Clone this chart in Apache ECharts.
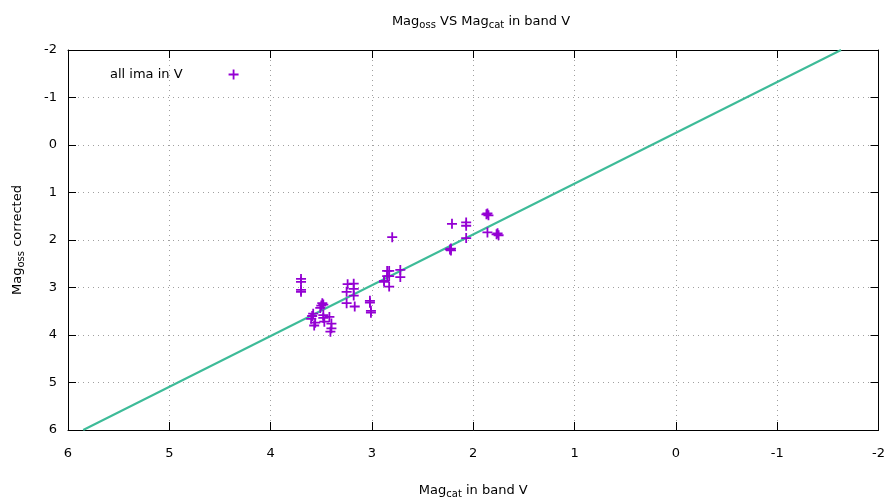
<!DOCTYPE html>
<html><head><meta charset="utf-8">
<script src="https://cdn.jsdelivr.net/npm/echarts@6/dist/echarts.min.js"></script>
<style>html,body{margin:0;padding:0;background:#fff}#c{width:888px;height:504px}</style>
</head><body><div id="c"></div>
<script>
// Observed points: catalogue magnitude (x) vs corrected observed magnitude (y)
var magCat = [3.70,3.70,3.70,3.70,3.49,3.48,3.50,3.51,3.58,3.59,3.60,3.56,3.57,3.48,3.48,3.47,3.42,3.40,3.40,3.41,
  3.24,3.25,3.25,3.18,3.18,3.18,3.17,3.02,3.02,3.01,3.01,2.80,2.85,2.85,2.88,2.83,2.83,2.88,2.83,2.72,2.72,
  2.22,2.23,2.22,2.21,2.07,2.07,2.07,1.86,1.87,1.85,1.86,1.76,1.77,1.75];
var magOss = [2.82,2.88,3.05,3.09,3.33,3.36,3.38,3.43,3.55,3.60,3.66,3.74,3.80,3.58,3.64,3.72,3.62,3.76,3.86,3.93,
  2.93,3.09,3.33,2.92,3.03,3.17,3.40,3.28,3.32,3.49,3.53,1.94,2.65,2.76,2.86,2.65,2.76,2.88,2.98,2.63,2.78,
  2.18,2.20,2.22,1.66,1.63,1.70,1.96,1.44,1.46,1.48,1.84,1.86,1.88,1.90];
// Fitted line end points (as read)
var lineX = [5.85, -1.63];
var lineY = [6.0, -2.0];
var xTicks = [6,5,4,3,2,1,0,-1,-2];
var yTicks = [-2,-1,0,1,2,3,4,5,6];

var FONT = 'DejaVu Sans';
var FS = 13;
var plus = 'path://M4.1,0h1.8v4.1h4.1v1.8h-4.1v4.1h-1.8v-4.1h-4.1v-1.8h4.1z';
var chart = echarts.init(document.getElementById('c'));
var pts = magCat.map(function(v,i){return [v, magOss[i]];});
var linePts = lineX.map(function(v,i){return [v, lineY[i]];});
var axisCommon = {
  type: 'value', min: -2, max: 6, interval: 1, inverse: true,
  axisLine: {show: true, onZero: false, lineStyle: {color: '#000', width: 1}},
  axisTick: {show: true, inside: true, length: 8, lineStyle: {color: '#000'}}
};
var richSub = {
  n: {fontFamily: FONT, fontSize: FS, fontWeight: 'normal', color: '#000', lineHeight: 17},
  s: {fontFamily: FONT, fontSize: 10, fontWeight: 'normal', color: '#000', padding: [7,0,0,0], lineHeight: 17}
};
var lbl = {color: '#000', fontFamily: FONT, fontSize: FS};
chart.setOption({
  animation: false,
  backgroundColor: '#fff',
  title: {
    text: '{n|Mag}{s|oss}{n| VS Mag}{s|cat}{n| in band V}',
    left: 476, top: 8, textAlign: 'center',
    textStyle: {fontWeight: 'normal', rich: richSub}
  },
  legend: {
    left: 105, top: 63, align: 'right',
    itemWidth: 10, itemHeight: 10,
    data: [{name: 'all ima in V', icon: plus}],
    formatter: function(n){return '{t|' + n + '}';},
    textStyle: {rich: {t: {fontFamily: FONT, fontSize: FS, color: '#000', padding: [0,41,0,0]}}}
  },
  grid: {left: 68, right: 8, top: 50, bottom: 72, containLabel: false},
  xAxis: [
    Object.assign({}, axisCommon, {
      position: 'bottom',
      name: '{n|Mag}{s|cat}{n| in band V}', nameLocation: 'middle', nameGap: 52,
      nameTextStyle: {rich: richSub},
      axisLabel: Object.assign({margin: 17, formatter: function(v){return xTicks.indexOf(v) >= 0 ? String(v) : '';}}, lbl),
      splitLine: {show: true, lineStyle: {color: '#a0a0a0', type: [1,4], width: 1}}
    }),
    Object.assign({}, axisCommon, {position: 'top', axisLabel: {show: false}, splitLine: {show: false}})
  ],
  yAxis: [
    Object.assign({}, axisCommon, {
      position: 'left',
      name: '{n|Mag}{s|oss}{n| corrected}', nameLocation: 'middle', nameGap: 42, nameRotate: 90,
      nameTextStyle: {rich: richSub},
      axisLabel: Object.assign({margin: 11, formatter: function(v){return yTicks.indexOf(v) >= 0 ? String(v) : '';}}, lbl),
      splitLine: {show: true, lineStyle: {color: '#a0a0a0', type: [1,4], width: 1}}
    }),
    Object.assign({}, axisCommon, {position: 'right', axisLabel: {show: false}, splitLine: {show: false}})
  ],
  series: [
    {
      name: 'all ima in V', type: 'scatter', data: pts,
      symbol: plus, symbolSize: 10,
      itemStyle: {color: '#9400d3', opacity: 1},
      z: 3
    },
    {
      name: 'fit', type: 'line', data: linePts, showSymbol: false, symbol: 'none',
      clip: true, silent: true,
      lineStyle: {color: '#3dbb98', width: 2},
      z: 2
    }
  ]
});
</script></body></html>
